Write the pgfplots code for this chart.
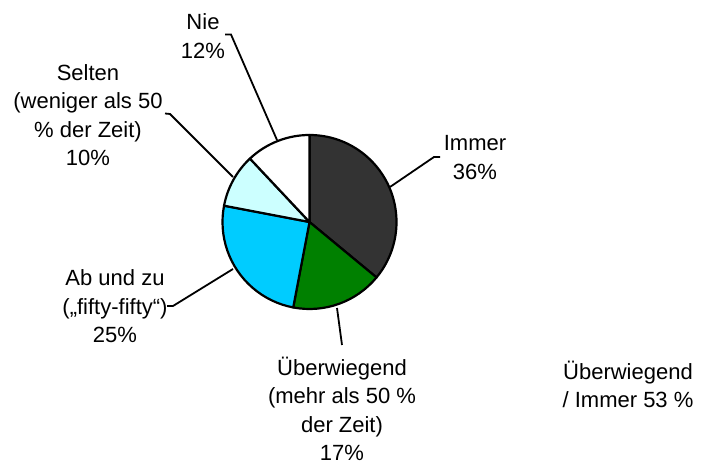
\documentclass[border=0pt]{standalone}
\usepackage{pgfplots}
\pgfplotsset{compat=1.18}
\usepackage{pgfplotstable}
\usepackage{fontspec}
\setmainfont{Liberation Sans}
\definecolor{cImmer}{HTML}{333333}
\definecolor{cUeber}{HTML}{008000}
\definecolor{cAb}{HTML}{00CCFF}
\definecolor{cSelten}{HTML}{CCFFFF}
\definecolor{cNie}{HTML}{FFFFFF}
\pgfplotstableread{
pct
36
17
25
10
12
}\piedata
\pgfplotstablegetelem{0}{pct}\of\piedata\let\pA\pgfplotsretval
\pgfplotstablegetelem{1}{pct}\of\piedata\let\pB\pgfplotsretval
\pgfplotstablegetelem{2}{pct}\of\piedata\let\pC\pgfplotsretval
\pgfplotstablegetelem{3}{pct}\of\piedata\let\pD\pgfplotsretval
\pgfplotstablegetelem{4}{pct}\of\piedata\let\pE\pgfplotsretval
\pgfmathsetmacro\aA{90-3.6*\pA}
\pgfmathsetmacro\aB{\aA-3.6*\pB}
\pgfmathsetmacro\aC{\aB-3.6*\pC}
\pgfmathsetmacro\aD{\aC-3.6*\pD}
\pgfmathsetmacro\aE{\aD-3.6*\pE}
\def\R{43.5pt}
\begin{document}
\begin{tikzpicture}
\begin{axis}[
  scale only axis, width=351pt, height=232pt,
  xmin=0, xmax=702, ymin=0, ymax=464, y dir=reverse,
  hide axis, clip=false,
]
\path (axis cs:0,0) rectangle (axis cs:702,464);
\filldraw[fill=cImmer, line width=1.1pt, line join=round] (axis cs:309.5,222) -- ++(90:\R) arc[start angle=90, end angle=\aA, radius=\R] -- cycle;
\filldraw[fill=cUeber, line width=1.1pt, line join=round] (axis cs:309.5,222) -- ++(\aA:\R) arc[start angle=\aA, end angle=\aB, radius=\R] -- cycle;
\filldraw[fill=cAb, line width=1.1pt, line join=round] (axis cs:309.5,222) -- ++(\aB:\R) arc[start angle=\aB, end angle=\aC, radius=\R] -- cycle;
\filldraw[fill=cSelten, line width=1.1pt, line join=round] (axis cs:309.5,222) -- ++(\aC:\R) arc[start angle=\aC, end angle=\aD, radius=\R] -- cycle;
\filldraw[fill=cNie, line width=1.1pt, line join=round] (axis cs:309.5,222) -- ++(\aD:\R) arc[start angle=\aD, end angle=\aE, radius=\R] -- cycle;
% leader lines
\draw[line width=0.9pt] (axis cs:225,34.5) -- (axis cs:231,34.5) -- (axis cs:277,140);
\draw[line width=0.9pt] (axis cs:165,113.5) -- (axis cs:170,114) -- (axis cs:233,177);
\draw[line width=0.9pt] (axis cs:440,157) -- (axis cs:434,157) -- (axis cs:390,187);
\draw[line width=0.9pt] (axis cs:167,306) -- (axis cs:173,306) -- (axis cs:233,269);
\draw[line width=0.9pt] (axis cs:337,308) -- (axis cs:342,345);
% labels
\tikzset{lbl/.style={align=center, inner sep=0pt, font=\fontsize{11}{14.2}\selectfont}}
\node[lbl] at (axis cs:203,36) {Nie\\12\%};
\node[lbl] at (axis cs:88,115) {Selten\\(weniger als 50\\\% der Zeit)\\10\%};
\node[lbl] at (axis cs:475,157.5) {Immer\\36\%};
\node[lbl] at (axis cs:115,306.5) {Ab und zu\\(„fifty-fifty“)\\25\%};
\node[lbl] at (axis cs:342,409) {Überwiegend\\(mehr als 50 \%\\der Zeit)\\17\%};
\node[lbl] at (axis cs:628,384.5) {Überwiegend\\/ Immer 53 \%};
\end{axis}
\end{tikzpicture}
\end{document}
